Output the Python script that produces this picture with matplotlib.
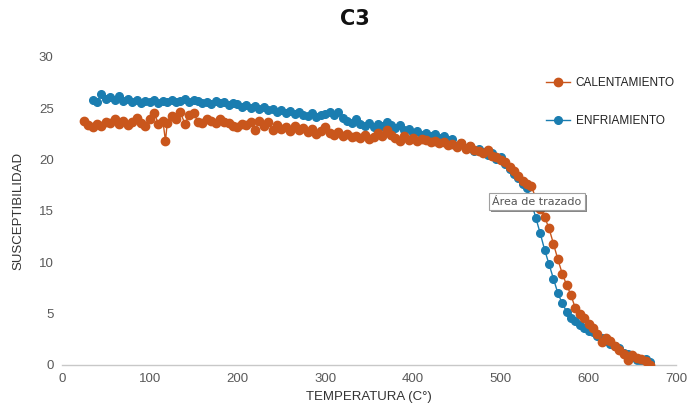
import matplotlib
matplotlib.use("Agg")
import matplotlib.pyplot as plt
import matplotlib.patheffects as pe

# Heating curve (calentamiento)
temp_heat = [25, 30, 35, 40, 45, 50, 55, 60, 65, 70, 75, 80, 85, 90, 95, 100, 105, 110, 115, 118,
             120, 125, 130, 135, 140, 145, 150, 155, 160, 165, 170, 175, 180, 185, 190, 195, 200,
             205, 210, 215, 220, 225, 230, 235, 240, 245, 250, 255, 260, 265, 270, 275, 280, 285,
             290, 295, 300, 305, 310, 315, 320, 325, 330, 335, 340, 345, 350, 355, 360, 365, 370,
             375, 380, 385, 390, 395, 400, 405, 410, 415, 420, 425, 430, 435, 440, 445, 450, 455,
             460, 465, 470, 475, 480, 485, 490, 495, 500, 505, 510, 515, 520, 525, 530, 535, 540,
             545, 550, 555, 560, 565, 570, 575, 580, 585, 590, 595, 600, 605, 610, 615, 620, 625,
             630, 635, 640, 645, 650, 655, 660, 665, 670]
susc_heat = [23.8, 23.4, 23.2, 23.5, 23.3, 23.7, 23.6, 23.9, 23.5, 23.8, 23.4, 23.7, 24.0, 23.6,
             23.3, 23.9, 24.5, 23.5, 23.8, 21.8, 23.6, 24.2, 23.9, 24.6, 23.5, 24.3, 24.5, 23.7,
             23.6, 23.9, 23.8, 23.6, 23.9, 23.7, 23.6, 23.3, 23.2, 23.5, 23.4, 23.7, 22.9, 23.8,
             23.3, 23.7, 22.9, 23.4, 23.0, 23.2, 22.8, 23.3, 22.9, 23.1, 22.7, 23.0, 22.5, 22.8,
             23.2, 22.6, 22.4, 22.7, 22.3, 22.5, 22.2, 22.3, 22.1, 22.4, 22.0, 22.2, 22.6, 22.3,
             22.9, 22.4, 22.1, 21.8, 22.3, 21.9, 22.1, 21.8, 22.0, 21.9, 21.7, 21.8, 21.6, 21.7,
             21.4, 21.5, 21.2, 21.6, 21.0, 21.3, 20.9, 20.8, 20.6, 20.9, 20.3, 20.2, 20.0, 19.8,
             19.3, 18.9, 18.4, 17.9, 17.6, 17.4, 16.2, 15.2, 14.4, 13.3, 11.8, 10.3, 8.9, 7.8,
             6.8, 5.5, 5.0, 4.6, 4.0, 3.6, 3.0, 2.2, 2.6, 2.3, 1.8, 1.5, 1.1, 0.5, 1.0, 0.7, 0.6,
             0.4, 0.0]

# Cooling curve (enfriamiento)
temp_cool = [35, 40, 45, 50, 55, 60, 65, 70, 75, 80, 85, 90, 95, 100, 105, 110, 115, 120, 125,
             130, 135, 140, 145, 150, 155, 160, 165, 170, 175, 180, 185, 190, 195, 200, 205, 210,
             215, 220, 225, 230, 235, 240, 245, 250, 255, 260, 265, 270, 275, 280, 285, 290, 295,
             300, 305, 310, 315, 320, 325, 330, 335, 340, 345, 350, 355, 360, 365, 370, 375, 380,
             385, 390, 395, 400, 405, 410, 415, 420, 425, 430, 435, 440, 445, 450, 455, 460, 465,
             470, 475, 480, 485, 490, 495, 500, 505, 510, 515, 520, 525, 530, 535, 540, 545, 550,
             555, 560, 565, 570, 575, 580, 585, 590, 595, 600, 605, 610, 615, 620, 625, 630, 635,
             640, 645, 650, 655, 660, 665, 670]
susc_cool = [25.8, 25.6, 26.4, 25.9, 26.1, 25.8, 26.2, 25.7, 25.9, 25.6, 25.8, 25.5, 25.7, 25.6,
             25.8, 25.5, 25.7, 25.6, 25.8, 25.6, 25.7, 25.9, 25.6, 25.8, 25.7, 25.5, 25.6, 25.4,
             25.7, 25.5, 25.6, 25.3, 25.5, 25.4, 25.1, 25.3, 25.0, 25.2, 24.9, 25.1, 24.8, 24.9,
             24.6, 24.8, 24.5, 24.7, 24.4, 24.6, 24.3, 24.2, 24.5, 24.1, 24.3, 24.4, 24.6, 24.3,
             24.6, 24.0, 23.8, 23.6, 23.9, 23.5, 23.3, 23.6, 23.2, 23.5, 23.3, 23.7, 23.4, 23.1,
             23.4, 22.9, 23.0, 22.6, 22.8, 22.4, 22.6, 22.3, 22.5, 22.1, 22.3, 21.9, 22.0, 21.3,
             21.6, 21.1, 21.3, 20.8, 21.0, 20.7, 20.4, 20.6, 20.1, 20.2, 19.6, 19.1, 18.6, 18.2,
             17.6, 17.2, 15.8, 14.3, 12.8, 11.2, 9.8, 8.4, 7.0, 6.0, 5.2, 4.6, 4.3, 3.9, 3.6, 3.3,
             3.2, 2.8, 2.6, 2.3, 2.0, 1.8, 1.6, 1.2, 1.1, 0.8, 0.5, 0.3, 0.6, 0.3]

x_ticks = [0, 100, 200, 300, 400, 500, 600, 700]
y_ticks = [0, 5, 10, 15, 20, 25, 30]

ORANGE = "#C9561C"
BLUE = "#1A7DB0"
TICK_GREY = "#595959"

plt.rcParams["font.family"] = ["Liberation Sans Narrow", "Liberation Sans", "DejaVu Sans"]

fig = plt.figure(figsize=(6.88, 4.18), dpi=100)
ax = fig.add_axes([0.090, 0.127, 0.893, 0.737])

ax.plot(temp_heat, susc_heat, color=ORANGE, lw=1.0, marker="o", ms=6.0,
        label="CALENTAMIENTO", zorder=3)
ax.plot(temp_cool, susc_cool, color=BLUE, lw=1.0, marker="o", ms=5.5,
        label="ENFRIAMIENTO", zorder=2)

ax.set_xlim(0, 700)
ax.set_ylim(0, 30)
ax.set_xticks(x_ticks)
ax.set_yticks(y_ticks)
ax.tick_params(length=0, labelsize=9.5, colors=TICK_GREY, pad=6)

for side in ("top", "right", "left"):
    ax.spines[side].set_visible(False)
ax.spines["bottom"].set_color("#C8C8C8")
ax.spines["bottom"].set_linewidth(1.0)

ax.set_xlabel("TEMPERATURA (C°)", fontsize=9.5, color="#333333", labelpad=4)
ax.set_ylabel("SUSCEPTIBILIDAD", fontsize=9.5, color="#333333", labelpad=10)

fig.text(0.516, 0.955, "C3", ha="center", va="center", fontsize=15,
         fontweight="heavy", family=["DejaVu Sans"], color="#111111")

leg = fig.legend(loc="upper left", bbox_to_anchor=(0.787, 0.826), frameon=False,
                 fontsize=8.5, labelspacing=2.2, handlelength=2.0, handletextpad=0.5,
                 borderaxespad=0)
for txt in leg.get_texts():
    txt.set_color("#222222")

tip = ax.text(490, 15.9, "Área de trazado", fontsize=8, color="#555555",
              ha="left", va="center", family=["DejaVu Sans"], zorder=5,
              bbox=dict(boxstyle="square,pad=0.3", fc="white", ec="#A0A0A0", lw=0.8))
tip.get_bbox_patch().set_path_effects([
    pe.SimplePatchShadow(offset=(1.5, -1.5), shadow_rgbFace="#555555", alpha=0.7),
    pe.Normal(),
])

fig.savefig("out.png", dpi=100)
